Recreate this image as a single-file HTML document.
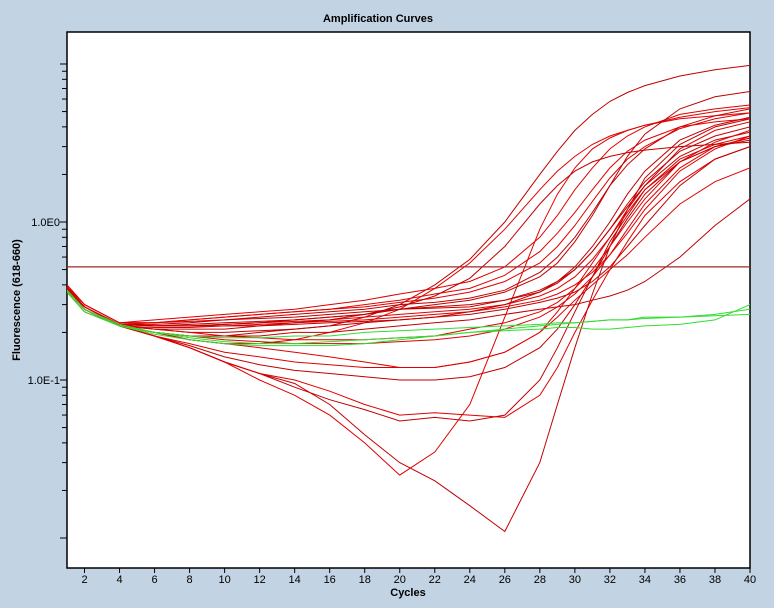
<!DOCTYPE html>
<html><head><meta charset="utf-8"><style>
html,body{margin:0;padding:0;background:#c2d3e3;}
svg{display:block;font-family:"Liberation Sans",sans-serif;}
</style></head><body>
<svg id="chart" width="774" height="608">
<rect x="0" y="0" width="774" height="608" fill="#c2d3e3"/>
<text x="378" y="22" font-size="11" font-weight="bold" text-anchor="middle">Amplification Curves</text>
<text transform="translate(20,300) rotate(-90)" font-size="11" font-weight="bold" text-anchor="middle">Fluorescence (618-660)</text>
<text x="408" y="596" font-size="11" font-weight="bold" text-anchor="middle">Cycles</text>
<defs><clipPath id="pc"><rect x="67" y="32" width="683" height="536"/></clipPath></defs>
<rect x="67" y="32" width="683" height="536" fill="#fff" stroke="#000" stroke-width="1.5"/>
<g id="axes"></g>
<g id="series" clip-path="url(#pc)"></g>
</svg>
<script>
const cycles=[1,2,4,6,8,10,12,14,16,18,20,22,24,26,28,29,30,31,32,33,34,36,38,40];
const xTicks=[2,4,6,8,10,12,14,16,18,20,22,24,26,28,30,32,34,36,38,40];
const yMajor=[1,0.1];
const yMajorLabels=["1.0E0","1.0E-1"];
const threshold=0.52;
const red1=[0.38,0.29,0.22,0.2,0.19,0.19,0.2,0.21,0.22,0.25,0.3,0.4,0.58,1.0,2.0,2.8,3.8,4.8,5.8,6.6,7.3,8.4,9.2,9.8];
const red2=[0.37,0.28,0.22,0.2,0.18,0.17,0.17,0.18,0.2,0.23,0.28,0.38,0.55,0.9,1.6,2.1,2.6,3.1,3.5,3.8,4.1,4.6,5.0,5.3];
const red3=[0.38,0.28,0.22,0.19,0.16,0.13,0.11,0.095,0.07,0.045,0.03,0.023,0.016,0.011,0.03,0.07,0.16,0.35,0.7,1.2,1.9,3.1,4.0,4.5];
const red4=[0.38,0.28,0.22,0.19,0.16,0.13,0.1,0.08,0.06,0.04,0.025,0.035,0.07,0.25,0.9,1.5,2.2,2.9,3.4,3.8,4.1,4.5,4.7,4.9];
const red5=[0.38,0.28,0.22,0.19,0.16,0.13,0.11,0.09,0.075,0.065,0.055,0.058,0.055,0.06,0.1,0.16,0.27,0.45,0.75,1.1,1.6,2.4,3.0,3.4];
const red6=[0.38,0.28,0.22,0.19,0.16,0.13,0.11,0.1,0.085,0.07,0.06,0.062,0.06,0.058,0.08,0.12,0.2,0.32,0.5,0.75,1.1,1.8,2.5,3.0];
const red7=[0.36,0.27,0.22,0.2,0.19,0.19,0.19,0.2,0.2,0.21,0.22,0.23,0.24,0.26,0.28,0.29,0.3,0.32,0.34,0.37,0.42,0.6,0.95,1.4];
const red8=[0.37,0.28,0.22,0.2,0.18,0.17,0.16,0.15,0.14,0.13,0.12,0.12,0.13,0.15,0.2,0.25,0.32,0.4,0.5,0.62,0.8,1.3,1.8,2.2];
const red9=[0.39,0.29,0.225,0.22,0.225,0.23,0.235,0.24,0.25,0.26,0.28,0.29,0.3,0.32,0.36,0.42,0.52,0.7,1.0,1.5,2.1,3.3,4.1,4.6];
const red10=[0.38,0.29,0.225,0.22,0.22,0.225,0.23,0.235,0.24,0.25,0.26,0.27,0.28,0.3,0.34,0.38,0.45,0.58,0.8,1.2,1.7,2.9,3.8,4.3];
const red11=[0.4,0.3,0.23,0.23,0.235,0.24,0.25,0.26,0.27,0.28,0.3,0.31,0.33,0.37,0.48,0.6,0.8,1.15,1.7,2.3,2.9,4.0,4.7,5.2];
const red12=[0.37,0.28,0.22,0.215,0.215,0.22,0.225,0.23,0.235,0.24,0.25,0.26,0.27,0.29,0.32,0.35,0.4,0.48,0.62,0.85,1.2,2.1,2.9,3.5];
const red13=[0.38,0.29,0.225,0.225,0.23,0.24,0.245,0.25,0.26,0.27,0.28,0.285,0.29,0.32,0.37,0.42,0.5,0.65,0.9,1.3,1.8,2.8,3.5,4.0];
const red14=[0.39,0.3,0.23,0.23,0.24,0.25,0.26,0.27,0.28,0.29,0.31,0.33,0.36,0.42,0.55,0.7,0.95,1.35,1.9,2.5,3.0,3.9,4.5,4.9];
const red15=[0.38,0.29,0.225,0.22,0.22,0.22,0.22,0.225,0.23,0.235,0.24,0.25,0.26,0.28,0.31,0.33,0.36,0.42,0.52,0.7,0.95,1.7,2.5,3.0];
const red16=[0.38,0.29,0.225,0.23,0.24,0.25,0.26,0.27,0.28,0.3,0.32,0.35,0.38,0.46,0.65,0.85,1.15,1.6,2.2,2.8,3.3,4.0,4.3,4.5];
const red17=[0.37,0.28,0.22,0.21,0.2,0.2,0.205,0.21,0.22,0.23,0.24,0.25,0.27,0.3,0.36,0.41,0.5,0.65,0.9,1.25,1.7,2.6,3.3,3.7];
const red18=[0.4,0.3,0.23,0.24,0.25,0.26,0.27,0.28,0.3,0.32,0.35,0.38,0.42,0.52,0.8,1.1,1.6,2.2,2.9,3.5,4.0,4.8,5.2,5.5];
const red19=[0.38,0.29,0.225,0.22,0.22,0.225,0.23,0.24,0.25,0.26,0.28,0.3,0.32,0.36,0.45,0.55,0.75,1.1,1.7,2.6,3.6,5.2,6.2,6.7];
const red20=[0.37,0.28,0.22,0.2,0.19,0.18,0.175,0.17,0.17,0.17,0.175,0.18,0.19,0.21,0.25,0.29,0.35,0.45,0.62,0.9,1.3,2.2,3.0,3.4];
const red21=[0.38,0.28,0.22,0.19,0.165,0.14,0.125,0.115,0.11,0.105,0.1,0.1,0.105,0.12,0.16,0.21,0.3,0.45,0.7,1.05,1.5,2.4,3.0,3.3];
const red22=[0.37,0.28,0.22,0.19,0.17,0.15,0.14,0.13,0.125,0.12,0.12,0.12,0.13,0.15,0.2,0.27,0.38,0.55,0.8,1.15,1.6,2.5,3.1,3.5];
const red23=[0.37,0.28,0.22,0.21,0.21,0.21,0.22,0.23,0.24,0.26,0.29,0.34,0.44,0.7,1.3,1.7,2.1,2.4,2.6,2.75,2.85,3.0,3.1,3.2];
const red24=[0.38,0.29,0.225,0.21,0.2,0.19,0.185,0.18,0.18,0.18,0.185,0.19,0.21,0.23,0.27,0.31,0.38,0.5,0.7,1.0,1.4,2.4,3.2,3.8];
const green1=[0.36,0.27,0.22,0.2,0.19,0.185,0.185,0.19,0.19,0.2,0.205,0.21,0.215,0.22,0.225,0.23,0.23,0.235,0.24,0.24,0.245,0.25,0.26,0.28];
const green2=[0.37,0.28,0.225,0.2,0.185,0.175,0.17,0.17,0.175,0.18,0.185,0.19,0.2,0.21,0.22,0.225,0.23,0.235,0.24,0.24,0.25,0.25,0.255,0.26];
const green3=[0.37,0.28,0.22,0.195,0.18,0.17,0.165,0.165,0.165,0.17,0.18,0.19,0.2,0.205,0.21,0.215,0.215,0.21,0.21,0.215,0.22,0.225,0.24,0.3];
const redSeries=[red1,red2,red3,red4,red5,red6,red7,red8,red9,red10,red11,red12,red13,red14,red15,red16,red17,red18,red19,red20,red21,red22,red23,red24];
const greenSeries=[green1,green2,green3];

const NS="http://www.w3.org/2000/svg";
const xS=c=>67+(c-1)*(750-67)/39;
const yS=v=>222-158*Math.log10(v);
function mk(tag,attrs,parent){const e=document.createElementNS(NS,tag);for(const k in attrs)e.setAttribute(k,attrs[k]);parent.appendChild(e);return e;}
const axes=document.getElementById('axes');
const series=document.getElementById('series');
xTicks.forEach(t=>{
  const l=mk('line',{x1:xS(t),x2:xS(t),y1:568,y2:573,stroke:'#000'},axes);
  
  
  const tx=mk('text',{x:xS(t),y:583,'font-size':11,'text-anchor':'middle'},axes);
  tx.textContent=t;
  
  
});
[10,1,0.1,0.01].forEach(d=>{for(let m=1;m<=9;m++){const v=d*m;const y=yS(v);if(y<32||y>568)continue;
  const l=mk('line',{x1:m===1?60:62,x2:67,y1:y,y2:y,stroke:'#000'},axes);
  
  }});
yMajor.forEach((v,i)=>{
  const tx=mk('text',{x:60,y:yS(v)+4,'font-size':11,'text-anchor':'end'},axes);
  tx.textContent=yMajorLabels[i];
  
  
});
function draw(arr,color,name){
  const d=arr.map((v,i)=>(i?'L':'M')+xS(cycles[i]).toFixed(1)+','+yS(v).toFixed(1)).join('');
  const p=mk('path',{d:d,fill:'none',stroke:color,'stroke-width':1},series);
  
  
}
redSeries.forEach((s,i)=>draw(s,i%2?'#e00000':'#c00000','sample-curve'));
greenSeries.forEach(s=>draw(s,'#33dd33','control-curve'));
const th=mk('line',{x1:67,x2:750,y1:yS(threshold),y2:yS(threshold),stroke:'#a02828','stroke-width':1.2},series);


</script>
</body></html>
